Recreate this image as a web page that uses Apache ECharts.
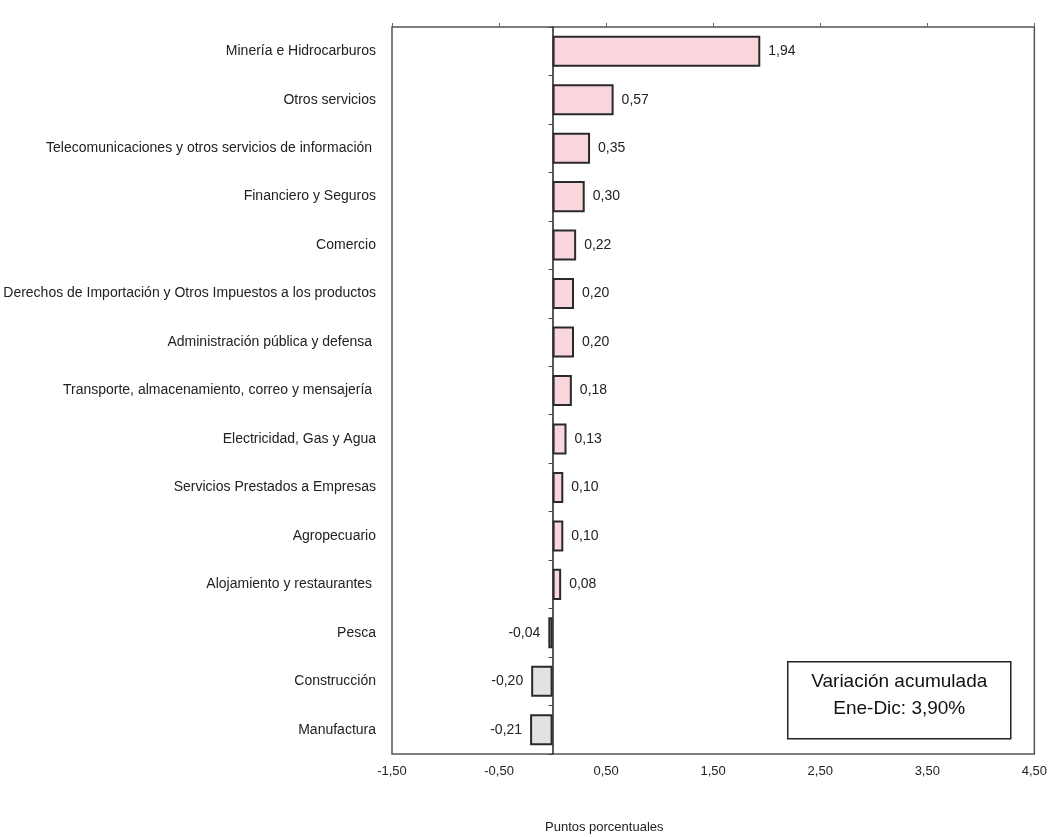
<!DOCTYPE html>
<html>
<head>
<meta charset="utf-8">
<script src="https://cdn.jsdelivr.net/npm/echarts@6/dist/echarts.min.js"></script>
<style>
  html, body { margin: 0; padding: 0; background: #fff; }
  #chart { width: 1050px; height: 837px; }
</style>
</head>
<body>
<div id="chart"></div>
<script>
// Contribución al crecimiento por actividad económica (puntos porcentuales)
const categories = [
  'Minería e Hidrocarburos',
  'Otros servicios',
  'Telecomunicaciones y otros servicios de información ',
  'Financiero y Seguros',
  'Comercio',
  'Derechos de Importación y Otros Impuestos a los productos',
  'Administración pública y defensa ',
  'Transporte, almacenamiento, correo y mensajería ',
  'Electricidad, Gas y Agua',
  'Servicios Prestados a Empresas',
  'Agropecuario',
  'Alojamiento y restaurantes ',
  'Pesca',
  'Construcción',
  'Manufactura'
];
const values = [1.94, 0.57, 0.35, 0.30, 0.22, 0.20, 0.20, 0.18, 0.13, 0.10, 0.10, 0.08, -0.04, -0.20, -0.21];
const axisMin = -1.5, axisMax = 4.5, axisStep = 1;
const boxLines = ['Variación acumulada', 'Ene-Dic: 3,90%'];
const axisTitle = 'Puntos porcentuales';

const FONT = "'Liberation Sans Narrow', 'Liberation Sans', Arial, sans-serif";
const fmt = v => v.toFixed(2).replace('.', ',');

const chart = echarts.init(document.getElementById('chart'));
chart.setOption({
  animation: false,
  backgroundColor: '#ffffff',
  grid: {
    left: 392, right: 13, top: 27, bottom: 83,
    show: true, borderColor: '#555', borderWidth: 1.5, backgroundColor: 'transparent'
  },
  xAxis: [{
    type: 'value', min: axisMin, max: axisMax, interval: axisStep,
    position: 'bottom',
    axisLine: { show: false },
    axisTick: { show: false },
    splitLine: { show: false },
    axisLabel: { formatter: fmt, fontFamily: FONT, fontSize: 13, color: '#222', margin: 11 }
  }, {
    type: 'value', min: axisMin, max: axisMax, interval: axisStep,
    position: 'top',
    axisLine: { show: false },
    axisTick: { show: true, length: 4, lineStyle: { color: '#666' } },
    splitLine: { show: false },
    axisLabel: { show: false }
  }],
  yAxis: [{
    type: 'category', data: categories, inverse: true,
    position: 'left',
    axisLine: { show: false },
    axisTick: { show: false },
    axisLabel: { fontFamily: FONT, fontSize: 14, color: '#222', margin: 16 }
  }, {
    // eje en el cero con marcas entre categorías
    type: 'category', data: categories, inverse: true,
    position: 'left',
    axisLine: { show: true, onZero: true, lineStyle: { color: '#222', width: 1.5 } },
    axisTick: { show: true, length: 4, lineStyle: { color: '#444' } },
    axisLabel: { show: false }
  }],
  series: [{
    type: 'bar',
    xAxisIndex: 0, yAxisIndex: 0,
    barWidth: '64%',
    data: values.map(v => ({
      value: v,
      itemStyle: { color: v >= 0 ? '#f9d5dc' : '#e2e2e2' },
      label: { position: v >= 0 ? 'right' : 'left' }
    })),
    itemStyle: { borderColor: '#2a2a2a', borderWidth: 2 },
    label: {
      show: true, distance: 8, formatter: p => fmt(p.value),
      fontFamily: FONT, fontSize: 14, color: '#222'
    }
  }],
  graphic: [{
    type: 'group', left: 787, top: 661,
    children: [{
      type: 'rect', shape: { x: 0, y: 0, width: 223, height: 77 },
      style: { fill: '#fff', stroke: '#222', lineWidth: 1.5 }
    }, {
      type: 'text', x: 111.5, y: 34,
      style: {
        text: boxLines.join('\n'), align: 'center', verticalAlign: 'middle',
        font: '19px ' + FONT, fill: '#111', lineHeight: 27
      }
    }]
  }, {
    type: 'text', left: 545, top: 821,
    style: { text: axisTitle, font: '13px ' + FONT, fill: '#222' }
  }]
});
</script>
</body>
</html>
